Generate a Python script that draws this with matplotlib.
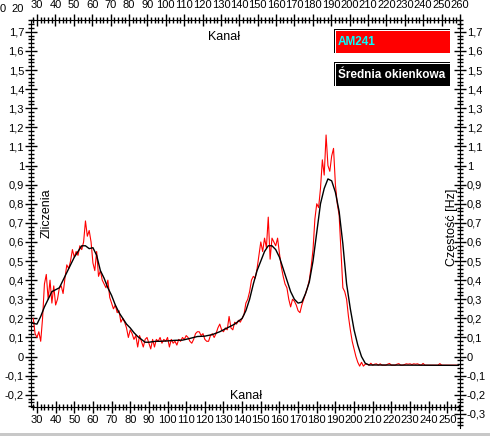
import matplotlib
matplotlib.use("Agg")
import matplotlib.pyplot as plt
from matplotlib.ticker import MultipleLocator, FuncFormatter
from matplotlib.patches import Rectangle
import numpy as np

plt.rcParams['font.family'] = ['Liberation Sans', 'DejaVu Sans']

# widmo AM241 - zliczenia od kanalu 28
kanal_start = 28
am241 = [
    0.20, 0.12, 0.10, 0.13, 0.08, 0.20, 0.38, 0.43, 0.30, 0.40,   # 28
    0.28, 0.37, 0.27, 0.30, 0.36, 0.37, 0.33, 0.41, 0.48, 0.46,   # 38
    0.50, 0.56, 0.52, 0.55, 0.53, 0.58, 0.56, 0.60, 0.71, 0.63,   # 48
    0.66, 0.60, 0.49, 0.45, 0.55, 0.42, 0.45, 0.40, 0.38, 0.36,   # 58
    0.40, 0.31, 0.28, 0.25, 0.27, 0.23, 0.24, 0.18, 0.20, 0.18,   # 68
    0.15, 0.10, 0.14, 0.12, 0.09, 0.11, 0.05, 0.11, 0.08, 0.05,   # 78
    0.09, 0.10, 0.07, 0.04, 0.09, 0.05, 0.09, 0.08, 0.10, 0.07,   # 88
    0.09, 0.08, 0.10, 0.05, 0.09, 0.07, 0.08, 0.06, 0.09, 0.08,   # 98
    0.10, 0.09, 0.11, 0.10, 0.08, 0.07, 0.09, 0.12, 0.13, 0.13,   # 108
    0.11, 0.12, 0.09, 0.08, 0.08, 0.11, 0.12, 0.10, 0.12, 0.15,   # 118
    0.17, 0.14, 0.13, 0.15, 0.14, 0.21, 0.15, 0.14, 0.18, 0.17,   # 128
    0.19, 0.18, 0.20, 0.22, 0.28, 0.30, 0.34, 0.40, 0.42, 0.41,   # 138
    0.46, 0.53, 0.60, 0.55, 0.62, 0.57, 0.73, 0.51, 0.62, 0.60,   # 148
    0.58, 0.62, 0.54, 0.47, 0.42, 0.38, 0.36, 0.30, 0.26, 0.30,   # 158
    0.29, 0.27, 0.24, 0.23, 0.27, 0.30, 0.33, 0.36, 0.40, 0.47,   # 168
    0.56, 0.72, 0.80, 0.78, 0.88, 1.03, 0.95, 1.16, 1.00, 0.97,   # 178
    1.05, 1.09, 0.90, 0.80, 0.74, 0.55, 0.36, 0.34, 0.30, 0.21,   # 188
    0.14, 0.08, 0.04, 0.00, -0.03, -0.05, -0.03, -0.05, -0.04,    # 198
    -0.040, -0.045, -0.035, -0.045, -0.040, -0.038, -0.045, -0.038, -0.045, -0.045,  # 207
    -0.045, -0.040, -0.036, -0.045, -0.045, -0.045, -0.040, -0.037, -0.045, -0.045,  # 217
    -0.042, -0.038, -0.040, -0.038, -0.042, -0.038, -0.040, -0.038, -0.042, -0.045,  # 227
    -0.036, -0.045, -0.045, -0.045, -0.045, -0.045, -0.045, -0.045, -0.045, -0.037,  # 237
    -0.045, -0.045, -0.045, -0.045, -0.045, -0.045, -0.045, -0.045, -0.045, -0.045,  # 247
]
kanal = np.arange(kanal_start, kanal_start + len(am241))

# srednia okienkowa
srednia_kanal = [27, 30, 32, 34, 36, 38, 40, 42, 44, 46, 48, 50, 52, 54, 56, 58, 60,
                 62, 64, 66, 68, 70, 72, 74, 76, 78, 80, 82, 84, 86, 88, 90, 92, 94,
                 96, 100, 104, 108, 112, 116, 120, 124, 128, 132, 136, 140, 142, 144,
                 146, 148, 150, 152, 154, 156, 158, 160, 162, 164, 166, 168, 170, 172,
                 174, 176, 178, 180, 182, 184, 186, 188, 190, 192, 194, 196, 198, 200,
                 202, 204, 206, 208, 256]
srednia = [0.175, 0.17, 0.21, 0.26, 0.30, 0.34, 0.35, 0.36, 0.40, 0.44, 0.48, 0.52,
           0.55, 0.58, 0.58, 0.565, 0.57, 0.53, 0.45, 0.41, 0.36, 0.32, 0.27, 0.23,
           0.20, 0.17, 0.15, 0.125, 0.105, 0.09, 0.075, 0.075, 0.078, 0.08, 0.08,
           0.082, 0.085, 0.086, 0.095, 0.105, 0.107, 0.115, 0.13, 0.15, 0.17, 0.20,
           0.24, 0.30, 0.38, 0.45, 0.50, 0.55, 0.58, 0.58, 0.56, 0.52, 0.46, 0.40,
           0.34, 0.30, 0.28, 0.285, 0.33, 0.39, 0.50, 0.65, 0.80, 0.88, 0.93, 0.92,
           0.86, 0.76, 0.59, 0.38, 0.25, 0.14, 0.06, 0.00, -0.035, -0.044, -0.046]

W, H = 490, 436
FS = 8      # etykiety osi
FT = 9      # tytuly osi


def box(l, t, r, b):
    return [l / W, 1 - b / H, (r - l) / W, (b - t) / H]


def przecinek(v, pos):
    v = round(v, 2) + 0.0
    s = ("%.1f" % v).rstrip('0').rstrip('.')
    if s == "-0":
        s = "0"
    return s.replace('.', ',')


def osie(a):
    a.tick_params(which='major', direction='inout', length=8, width=1,
                  labelsize=FS, pad=1)
    a.tick_params(which='minor', direction='inout', length=5, width=1)


fig = plt.figure(figsize=(W / 100, H / 100), dpi=100)
fig.patch.set_facecolor('white')

ax = fig.add_axes(box(31, 20, 460, 407))
ax.plot(kanal, am241, color='#ff0000', lw=0.8)
ax.plot(srednia_kanal, srednia, color='black', lw=1.0)
ax.set_xlim(26.8, 256.8)
ax.set_ylim(-0.264, 1.762)
ax.xaxis.set_major_locator(MultipleLocator(10))
ax.xaxis.set_minor_locator(MultipleLocator(2))
ax.yaxis.set_major_locator(MultipleLocator(0.1))
ax.yaxis.set_minor_locator(MultipleLocator(0.02))
ax.yaxis.set_major_formatter(FuncFormatter(przecinek))
ax.xaxis.set_major_formatter(FuncFormatter(lambda v, p: "%d" % v if 30 <= v <= 250 else ""))
osie(ax)
ax.tick_params(axis='x', pad=2)
for s in ['right', 'top']:
    ax.spines[s].set_visible(False)

# os gorna
axt = ax.twiny()
axt.set_xlim(26.7, 260.05)
axt.xaxis.set_major_locator(MultipleLocator(10))
axt.xaxis.set_minor_locator(MultipleLocator(2))
axt.xaxis.set_major_formatter(FuncFormatter(lambda v, p: "%d" % v if v >= 30 else ""))
osie(axt)
axt.tick_params(axis='x', pad=3)
for s in ['right', 'left', 'bottom']:
    axt.spines[s].set_visible(False)

# os prawa (dluzsza)
axr = fig.add_axes(box(455, 20, 460, 428))
axr.patch.set_visible(False)
axr.set_ylim(-0.374, 1.762)
axr.set_xticks([])
axr.yaxis.tick_right()
axr.yaxis.set_major_locator(MultipleLocator(0.1))
axr.yaxis.set_minor_locator(MultipleLocator(0.02))
axr.yaxis.set_major_formatter(FuncFormatter(przecinek))
osie(axr)
for s in ['left', 'top', 'bottom']:
    axr.spines[s].set_visible(False)

# napisy i legenda w pikselach
ov = fig.add_axes([0, 0, 1, 1], zorder=5)
ov.set_xlim(0, W)
ov.set_ylim(H, 0)
ov.axis('off')
ov.patch.set_visible(False)

ov.text(3, 9, "0", fontsize=FS, ha='center', va='center')
ov.text(18, 9, "20", fontsize=FS, ha='center', va='center')
ov.text(224, 37, "Kanał", fontsize=FT, ha='center', va='center')
ov.text(246, 396, "Kanał", fontsize=FT, ha='center', va='center')
ov.text(47, 213, "Zliczenia", fontsize=FT, rotation=90, ha='center', va='center')
ov.text(452, 227, "Częstość [Hz]", fontsize=FT, rotation=90, ha='center', va='center')

for (t, fill, txt, col) in [(29, '#ff0000', "AM241", '#00ffff'),
                            (62, 'black', "Średnia okienkowa", 'white')]:
    ov.add_patch(Rectangle((334, t), 116, 24, facecolor='black', lw=0))
    ov.add_patch(Rectangle((335, t + 1), 115, 23, facecolor='white', lw=0))
    ov.add_patch(Rectangle((336, t + 2), 114, 22, facecolor=fill, lw=0))
    ov.text(338, t + 13, txt, color=col, fontsize=8.5, fontweight='bold',
            ha='left', va='center')

ov.add_patch(Rectangle((0, 433), W, 3, facecolor='#c8c8c8', lw=0))

fig.savefig("out.png", dpi=100)
